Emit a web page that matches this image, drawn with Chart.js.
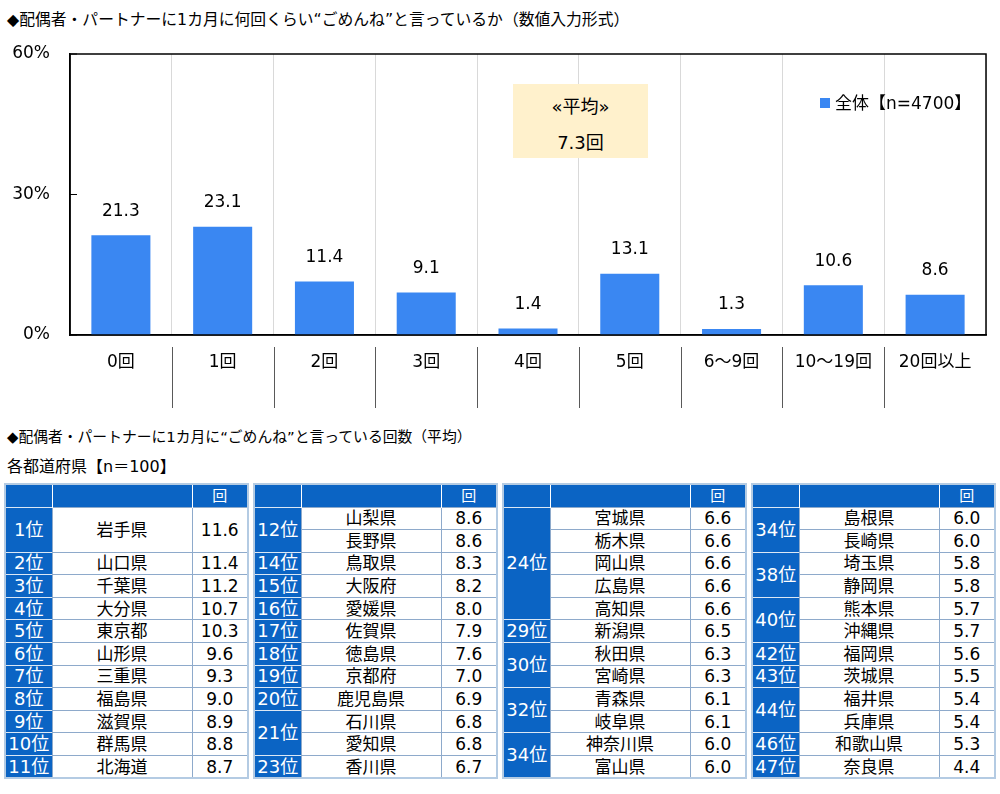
<!DOCTYPE html>
<html lang="ja">
<head>
  <meta charset="UTF-8">
  <title>ごめんねの回数</title>
  <script src="https://cdn.jsdelivr.net/npm/chart.js"></script>
  <style>
    body {
      margin: 0;
      width: 1000px;
      height: 794px;
      position: relative;
      overflow: hidden;
      background: #fff;
      color: #000;
      font-family: "DejaVu Sans", "Noto Sans CJK JP", sans-serif;
    }
    .title { position: absolute; left: 7px; white-space: nowrap; line-height: 20px; }
    #chartBox { position: absolute; left: 0; top: 0; width: 1000px; height: 420px; }
    #avgBox {
      position: absolute; left: 513px; top: 84px; width: 135px; height: 74px;
      background: #fff1cc; text-align: center; font-size: 18px;
    }
    #avgBox div { position: absolute; left: 0; right: 0; line-height: 24px; }
    #legend { position: absolute; left: 820px; top: 92px; font-size: 17px; line-height: 22px; white-space: nowrap; }
    #legend i { display: inline-block; width: 10px; height: 10px; background: #3a87f2; margin-right: 5px; vertical-align: 1px; }
    #tables { position: absolute; left: 4px; top: 483px; display: flex; gap: 4px; }
    table { border-collapse: collapse; table-layout: fixed; width: 243px; border: 2px solid #b4cbe3; }
    td { padding: 0; text-align: center; font-size: 17px; line-height: 20px; white-space: nowrap; }
    tr { height: 22.6px; }
    tr.head { height: 23px; }
    td.hd { background: #0b64c4; color: #fff; border-right: 1px solid #fff; font-size: 15px; }
    td.hd:last-child { border-right: none; }
    td.rank { background: #0b64c4; color: #fff; border-top: 1px solid #dce8f5; font-size: 18px; }
    td.name, td.val { border: 1px solid #8eaacb; }
  </style>
</head>
<body>
  <div class="title" style="top:10px; font-size:15.8px;">◆配偶者・パートナーに1カ月に何回くらい“ごめんね”と言っているか（数値入力形式）</div>
  <div id="chartBox"><canvas id="freqChart"></canvas></div>
  <div id="avgBox"></div>
  <div id="legend"></div>
  <div class="title" style="top:427px; font-size:14.8px;">◆配偶者・パートナーに1カ月に“ごめんね”と言っている回数（平均）</div>
  <div class="title" style="top:457px; font-size:16px;">各都道府県【n＝100】</div>
  <div id="tables"></div>

  <script>
    // 上段グラフ
    const categories = ["0回", "1回", "2回", "3回", "4回", "5回", "6～9回", "10～19回", "20回以上"];
    const shares = [21.3, 23.1, 11.4, 9.1, 1.4, 13.1, 1.3, 10.6, 8.6];
    const yTicks = [0, 30, 60];
    const seriesLabel = "全体【n=4700】";
    const averageLines = ["«平均»", "7.3回"];

    // 下段の表
    const prefNames = [
      "岩手県", "山口県", "千葉県", "大分県", "東京都", "山形県", "三重県", "福島県", "滋賀県", "群馬県", "北海道",
      "山梨県", "長野県", "鳥取県", "大阪府", "愛媛県", "佐賀県", "徳島県", "京都府", "鹿児島県", "石川県", "愛知県", "香川県",
      "宮城県", "栃木県", "岡山県", "広島県", "高知県", "新潟県", "秋田県", "宮崎県", "青森県", "岐阜県", "神奈川県", "富山県",
      "島根県", "長崎県", "埼玉県", "静岡県", "熊本県", "沖縄県", "福岡県", "茨城県", "福井県", "兵庫県", "和歌山県", "奈良県"
    ];
    const prefValues = [
      11.6, 11.4, 11.2, 10.7, 10.3, 9.6, 9.3, 9.0, 8.9, 8.8, 8.7,
      8.6, 8.6, 8.3, 8.2, 8.0, 7.9, 7.6, 7.0, 6.9, 6.8, 6.8, 6.7,
      6.6, 6.6, 6.6, 6.6, 6.6, 6.5, 6.3, 6.3, 6.1, 6.1, 6.0, 6.0,
      6.0, 6.0, 5.8, 5.8, 5.7, 5.7, 5.6, 5.5, 5.4, 5.4, 5.3, 4.4
    ];
    const prefRanks = [
      1, 2, 3, 4, 5, 6, 7, 8, 9, 10, 11,
      12, 12, 14, 15, 16, 17, 18, 19, 20, 21, 21, 23,
      24, 24, 24, 24, 24, 29, 30, 30, 32, 32, 34, 34,
      34, 34, 38, 38, 40, 40, 42, 43, 44, 44, 46, 47
    ];
    const tableSizes = [11, 12, 12, 12];
    const unitHeader = "回";

    const barBlue = "#3a87f2";

    document.getElementById("avgBox").innerHTML =
      averageLines.map((t, i) => `<div style="top:${11 + i * 36}px">${t}</div>`).join("");
    document.getElementById("legend").innerHTML = `<i></i>${seriesLabel}`;

    const decorations = {
      id: "decorations",
      afterDraw(chart) {
        const { ctx, chartArea: a, scales: { x, y } } = chart;
        ctx.save();
        ctx.strokeStyle = "#000";
        ctx.lineWidth = 1.5;
        ctx.strokeRect(a.left, a.top, a.right - a.left, a.bottom - a.top);

        // 内向きの目盛り
        ctx.lineWidth = 1;
        y.ticks.forEach(t => {
          const py = y.getPixelForValue(t.value);
          ctx.beginPath();
          ctx.moveTo(a.left, py);
          ctx.lineTo(a.left + 7, py);
          ctx.stroke();
        });

        // 軸ラベルの区切り線
        const half = (x.getPixelForValue(1) - x.getPixelForValue(0)) / 2;
        ctx.strokeStyle = "#595959";
        for (let i = 1; i < categories.length; i++) {
          const px = Math.round(x.getPixelForValue(i) - half) + 0.5;
          ctx.beginPath();
          ctx.moveTo(px, a.bottom + 12);
          ctx.lineTo(px, a.bottom + 73);
          ctx.stroke();
        }

        // 値ラベル
        ctx.fillStyle = "#000";
        ctx.font = '17px "DejaVu Sans", "Noto Sans CJK JP"';
        ctx.textAlign = "center";
        ctx.textBaseline = "middle";
        chart.getDatasetMeta(0).data.forEach((bar, i) => {
          ctx.fillText(shares[i].toFixed(1), bar.x, bar.y - 24);
        });
        ctx.restore();
      }
    };

    new Chart(document.getElementById("freqChart").getContext("2d"), {
      type: "bar",
      data: {
        labels: categories,
        datasets: [{
          label: seriesLabel,
          data: shares,
          backgroundColor: barBlue,
          categoryPercentage: 1,
          barPercentage: 0.58
        }]
      },
      options: {
        responsive: true,
        maintainAspectRatio: false,
        animation: false,
        layout: { padding: { top: 54, right: 14, left: 0, bottom: 0 } },
        plugins: { legend: { display: false }, tooltip: { enabled: false } },
        scales: {
          x: {
            afterFit: s => { s.height = 85; },
            grid: { offset: true, color: "#d9d9d9", drawTicks: false },
            border: { color: "#000", width: 1.5 },
            ticks: {
              color: "#000",
              padding: 17,
              maxRotation: 0,
              font: { family: '"DejaVu Sans", "Noto Sans CJK JP"', size: 17 }
            }
          },
          y: {
            min: 0,
            max: 60,
            afterFit: s => { s.width = 70; },
            afterBuildTicks: s => { s.ticks = yTicks.map(v => ({ value: v })); },
            grid: { display: false, drawTicks: false },
            border: { color: "#000", width: 1.5 },
            ticks: {
              color: "#000",
              padding: 20,
              font: { family: '"DejaVu Sans", "Noto Sans CJK JP"', size: 17 },
              callback: v => v + "%"
            }
          }
        }
      },
      plugins: [decorations]
    });

    // 表の組み立て（12行分の高さに合わせる）
    const rowsPerTable = 12;
    let start = 0;
    const tablesHtml = tableSizes.map(size => {
      const items = [];
      for (let i = start; i < start + size; i++) {
        items.push({ rank: prefRanks[i], name: prefNames[i], value: prefValues[i], span: 1 });
      }
      start += size;
      items[0].span += rowsPerTable - size;

      let html = `<table><colgroup><col style="width:47px"><col style="width:140px"><col style="width:56px"></colgroup>`;
      html += `<tr class="head"><td class="hd"></td><td class="hd"></td><td class="hd">${unitHeader}</td></tr>`;
      items.forEach((it, k) => {
        const first = k === 0 || items[k - 1].rank !== it.rank;
        let rankCell = "";
        if (first) {
          let span = 0;
          for (let j = k; j < items.length && items[j].rank === it.rank; j++) span += items[j].span;
          rankCell = `<td class="rank" rowspan="${span}">${it.rank}位</td>`;
        }
        const sp = it.span > 1 ? ` rowspan="${it.span}"` : "";
        html += `<tr>${rankCell}<td class="name"${sp}>${it.name}</td><td class="val"${sp}>${it.value.toFixed(1)}</td></tr>`;
        for (let e = 1; e < it.span; e++) html += "<tr></tr>";
      });
      return html + "</table>";
    }).join("");
    document.getElementById("tables").innerHTML = tablesHtml;
  </script>
</body>
</html>
